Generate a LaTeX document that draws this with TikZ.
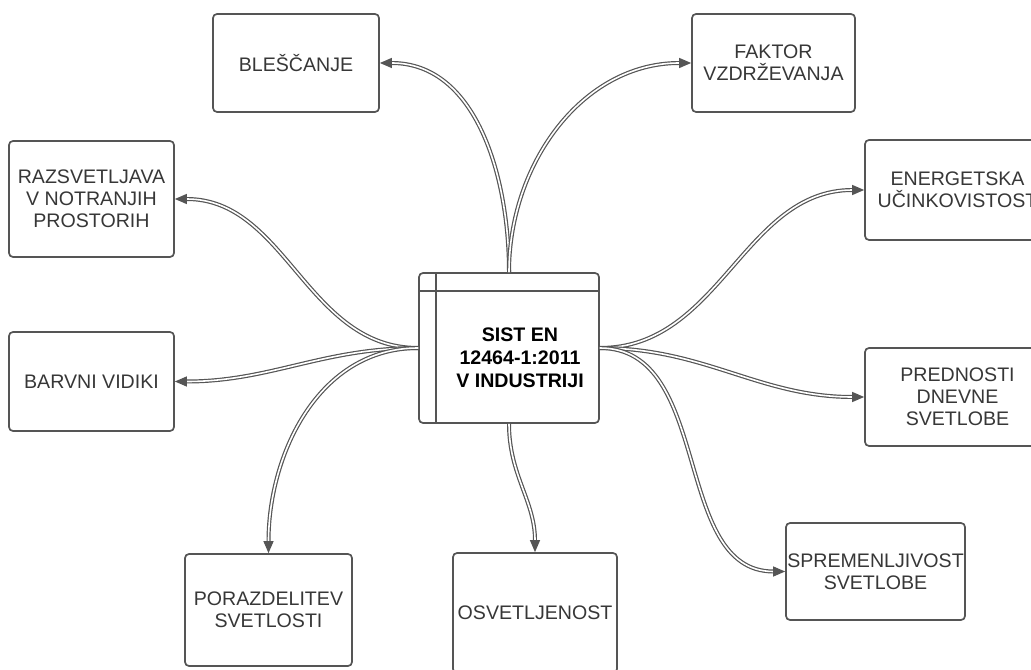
\documentclass[tikz,border=0pt]{standalone}
\usepackage{fontspec}
\setmainfont{Liberation Sans}
\usepackage{tikz}
\usetikzlibrary{arrows.meta, positioning, calc}
\definecolor{linegray}{RGB}{85, 85, 85}
\definecolor{textgray}{RGB}{55, 55, 55}

\begin{document}
\begin{tikzpicture}[x=0.5pt, y=0.5pt, >=Triangle,
    box/.style={draw=linegray, line width=0.85pt, rounded corners=2pt, fill=white,
        align=center, text=textgray, font=\fontsize{9.8}{11}\selectfont, inner sep=0pt},
    link/.style={draw=linegray, double=white, line width=0.6pt, double distance=0.8pt,
        -{Triangle[length=6pt, width=5pt, fill=linegray]}}]
    \useasboundingbox (0,0) rectangle (1031,669);
    \clip (0,0) rectangle (1031,669);
    % main box
    \node[box, minimum width=90pt, minimum height=75pt] (sist) at (509,321) {};
    \draw[linegray, line width=0.85pt] ($(sist.north west)+(18,0)$) -- ($(sist.south west)+(18,0)$);
    \draw[linegray, line width=0.85pt] ($(sist.north west)+(0,-19)$) -- ($(sist.north east)+(0,-19)$);
    \node[align=center, font=\fontsize{9.8}{11.5}\selectfont\bfseries] (sisttext) at (520,311) {SIST EN\\12464-1:2011\\V INDUSTRIJI};
    % topics
    \node[box, minimum width=83pt, minimum height=49pt] (blescanje) at (296,606) {BLEŠČANJE};
    \node[box, minimum width=81.5pt, minimum height=49pt] (faktor) at (773.5,606) {FAKTOR\\VZDRŽEVANJA};
    \node[box, minimum width=82.5pt, minimum height=58pt] (razsvetljava) at (91.5,470) {RAZSVETLJAVA\\V NOTRANJIH\\PROSTORIH};
    \node[box, minimum width=82.5pt, minimum height=49.5pt] (barvni) at (91.5,287.5) {BARVNI VIDIKI};
    \node[box, minimum width=83.5pt, minimum height=56pt] (porazdelitev) at (268.5,59) {PORAZDELITEV\\SVETLOSTI};
    \node[box, minimum width=82pt, minimum height=60pt] (osvetljenost) at (535,56) {OSVETLJENOST};
    \node[box, minimum width=89.5pt, minimum height=48.5pt] (spremenljivost) at (875.5,97.5) {SPREMENLJIVOST\\SVETLOBE};
    \node[box, minimum width=92.5pt, minimum height=49pt] (prednosti) at (957.5,272) {PREDNOSTI\\DNEVNE\\SVETLOBE};
    \node[box, minimum width=92.5pt, minimum height=50pt] (energetska) at (957.5,479) {ENERGETSKA\\UČINKOVISTOST};
    % connectors
    \draw[link] (sist.north) to[out=90, in=0] (blescanje.east);
    \draw[link] (sist.north) to[out=90, in=180] (faktor.west);
    \draw[link] (sist.west) to[out=180, in=0] (razsvetljava.east);
    \draw[link] (sist.west) to[out=180, in=0] (barvni.east);
    \draw[link] (sist.west) to[out=180, in=90] (porazdelitev.north);
    \draw[link] (sist.south) to[out=-90, in=90] (osvetljenost.north);
    \draw[link] (sist.east) to[out=0, in=180] (energetska.west);
    \draw[link] (sist.east) to[out=0, in=180] (prednosti.west);
    \draw[link] (sist.east) to[out=0, in=180] (spremenljivost.west);
\end{tikzpicture}
\end{document}
